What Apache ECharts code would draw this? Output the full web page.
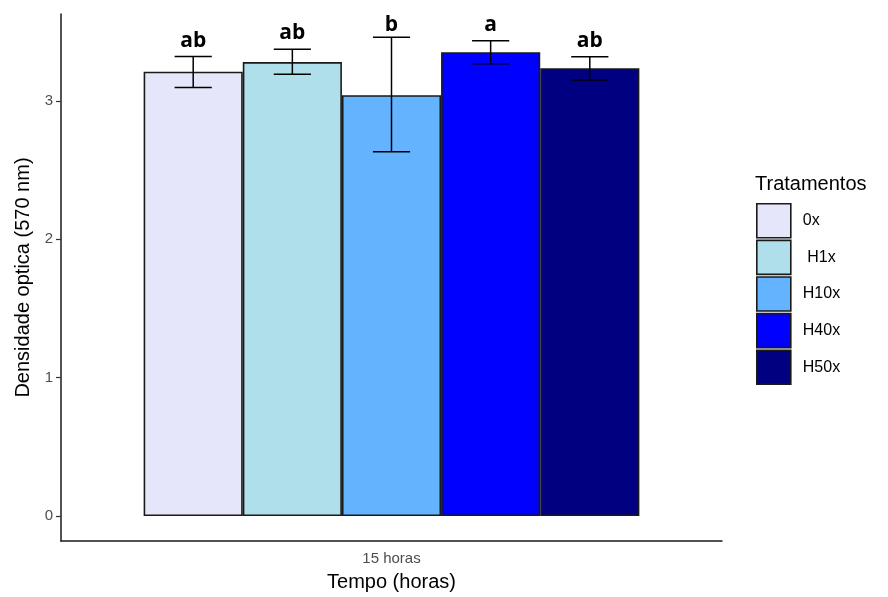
<!DOCTYPE html>
<html>
<head>
<meta charset="utf-8">
<script src="https://cdn.jsdelivr.net/npm/echarts@6/dist/echarts.min.js"></script>
<style>html,body{margin:0;padding:0;background:#fff}#c{width:888px;height:597px}</style>
</head>
<body>
<div id="c"></div>
<script>
const categories = ['15 horas'];
const treatments = ['0x', ' H1x', 'H10x', 'H40x', 'H50x'];
const means = [3.21, 3.28, 3.04, 3.35, 3.235];
const lower = [3.096, 3.192, 2.632, 3.267, 3.151];
const upper = [3.32, 3.373, 3.459, 3.433, 3.318];
const letters = ['ab', 'ab', 'b', 'a', 'ab'];
const letterPos = [3.39, 3.45, 3.51, 3.51, 3.39];
const yTicks = [0, 1, 2, 3];
const colors = ['#E6E6FA', '#B0DFEC', '#63B3FF', '#0000FF', '#000080'];

const CAT_GAP = 0.25;
const FONT = 'Liberation Sans, Arial, sans-serif';

const chart = echarts.init(document.getElementById('c'), null, {renderer: 'canvas'});

const barSeries = treatments.map((t, i) => ({
  type: 'bar',
  name: t,
  data: [means[i]],
  barGap: '0%',
  barCategoryGap: (CAT_GAP * 100) + '%',
  itemStyle: {color: colors[i], borderColor: '#1a1a1a', borderWidth: 1.6},
  emphasis: {disabled: true},
  z: 2
}));

const errData = treatments.map((t, i) => [0, lower[i], upper[i], i, letterPos[i]]);

const errSeries = {
  type: 'custom',
  name: 'err',
  data: errData,
  z: 5,
  silent: true,
  encode: {x: 0, y: [1, 2]},
  renderItem: function (params, api) {
    const i = api.value(3);
    const lo = api.coord([0, api.value(1)]);
    const hi = api.coord([0, api.value(2)]);
    const lp = api.coord([0, api.value(4)]);
    const band = api.size([1, 0])[0];
    const bw = band * (1 - CAT_GAP) / treatments.length;
    const x = lo[0] + (i - (treatments.length - 1) / 2) * bw;
    const hw = bw * 0.375 / 2;
    const st = {stroke: '#000', lineWidth: 1.5};
    return {
      type: 'group',
      children: [
        {type: 'line', shape: {x1: x, y1: hi[1], x2: x, y2: lo[1]}, style: st},
        {type: 'line', shape: {x1: x - hw, y1: hi[1], x2: x + hw, y2: hi[1]}, style: st},
        {type: 'line', shape: {x1: x - hw, y1: lo[1], x2: x + hw, y2: lo[1]}, style: st},
        {type: 'text', x: x, y: lp[1] + 5, style: {
          text: letters[i], align: 'center', verticalAlign: 'bottom',
          font: 'bold 21px "Open Sans", "Noto Sans", sans-serif', fill: '#000'
        }}
      ]
    };
  }
};

chart.setOption({
  animation: false,
  backgroundColor: '#fff',
  title: {
    text: 'Tratamentos', left: 755, top: 174, padding: 0,
    textStyle: {fontFamily: FONT, fontSize: 20, fontWeight: 'normal', color: '#000'}
  },
  legend: {
    data: treatments,
    orient: 'vertical',
    left: 756, top: 203,
    padding: 0,
    itemWidth: 34, itemHeight: 34, itemGap: 1,
    icon: 'rect',
    selectedMode: false,
    itemStyle: {borderColor: '#1a1a1a', borderWidth: 1.6},
    textStyle: {fontFamily: FONT, fontSize: 16, color: '#000', padding: [0, 0, 0, 7]}
  },
  grid: {left: 61, top: 14, right: 166, bottom: 55, containLabel: false},
  xAxis: {
    type: 'category',
    data: categories,
    name: 'Tempo (horas)',
    nameLocation: 'middle',
    nameGap: 31,
    nameTextStyle: {fontFamily: FONT, fontSize: 20, color: '#000'},
    axisLine: {onZero: false, lineStyle: {color: '#1a1a1a', width: 1.5}},
    axisTick: {alignWithLabel: true, length: 5, lineStyle: {color: '#333', width: 1.2}},
    axisLabel: {fontFamily: FONT, fontSize: 15, color: '#4D4D4D', margin: 10}
  },
  yAxis: {
    type: 'value',
    min: -0.18, max: 3.627,
    name: 'Densidade optica (570 nm)',
    nameLocation: 'middle',
    nameGap: 28,
    nameTextStyle: {fontFamily: FONT, fontSize: 20, color: '#000'},
    splitLine: {show: false},
    axisLine: {show: true, lineStyle: {color: '#1a1a1a', width: 1.5}},
    axisTick: {show: true, length: 5, customValues: yTicks, lineStyle: {color: '#333', width: 1.2}},
    axisLabel: {fontFamily: FONT, fontSize: 15, color: '#4D4D4D', margin: 8, customValues: yTicks}
  },
  series: barSeries.concat([errSeries])
});
</script>
</body>
</html>
